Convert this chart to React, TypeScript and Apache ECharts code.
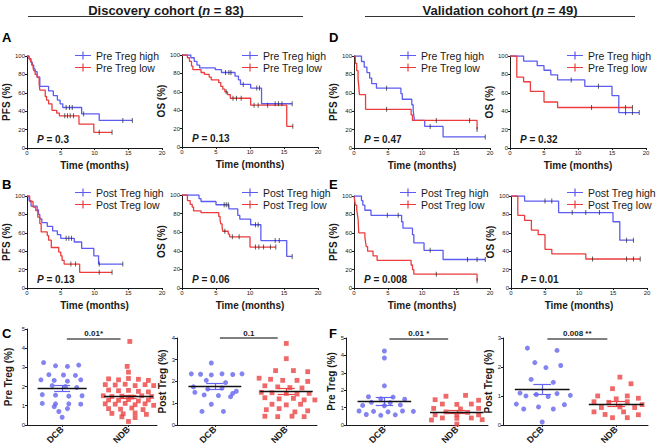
import React, { useEffect, useRef } from "react";
import * as echarts from "echarts";

// ---------------- Kaplan-Meier data [months, % surviving] ----------------
// A: Discovery cohort, pre-treatment Treg
const discPrePfsHigh = [[0,100],[0.3,97],[0.6,93],[0.8,90],[1.0,86],[1.2,83],[1.5,77],[1.9,67],[3.2,62],[3.9,57],[4.5,52],[4.9,48],[5.3,44],[8.1,37],[10.7,30],[15.6,30]];
const discPrePfsHighCens = [[5.8,44],[6.3,44],[6.7,44],[8.4,37],[14.2,30],[15.6,30]];
const discPrePfsLow = [[0,100],[0.3,97],[0.5,94],[0.7,90],[0.9,87],[1.0,84],[1.2,80],[1.5,77],[1.8,70],[1.9,63],[2.7,56],[2.9,52],[3.2,48],[3.7,41],[4.4,38],[4.8,35],[7.7,26],[9.9,17],[12.6,17]];
const discPrePfsLowCens = [[5.6,35],[6.0,35],[6.4,35],[6.9,35],[10.7,17],[12.6,17]];
const discPreOsHigh = [[0,100],[1.3,97],[1.8,93],[2.2,89],[2.6,86],[4.9,84],[5.8,81],[7.8,77],[8.3,73],[8.6,68],[10.1,64],[11.7,47],[16.2,47]];
const discPreOsHighCens = [[6.4,81],[6.9,81],[7.2,81],[9.0,68],[11.0,64],[11.4,64],[13.7,47],[14.2,47],[14.7,47],[16.2,47]];
const discPreOsLow = [[0,100],[0.8,97],[1.1,93],[1.4,88],[1.6,84],[2.8,81],[3.3,79],[4.0,76],[4.3,73],[5.4,70],[5.7,66],[6.0,63],[6.3,60],[6.7,57],[7.1,53],[10.1,45.5],[15.4,22.5],[16.3,22.5]];
const discPreOsLowCens = [[6.5,60],[7.5,53],[8.0,53],[8.7,53],[10.6,45.5],[11.2,45.5],[12.6,45.5],[16.3,22.5]];
// B: Discovery cohort, post-treatment Treg
const discPostPfsHigh = [[0,100],[0.3,95],[0.6,89],[1.5,85],[1.7,80],[1.9,75],[2.2,71],[3.0,67],[3.8,62],[4.5,58],[5.0,54],[7.0,50],[8.1,43],[9.9,35],[10.6,26],[14.2,26]];
const discPostPfsHighCens = [[5.8,54],[6.2,54],[6.6,54],[10.7,26],[14.2,26]];
const discPostPfsLow = [[0,100],[0.4,94],[0.9,88],[1.3,84],[1.6,77],[1.9,70],[2.1,61],[3.0,57],[3.2,52],[3.6,44],[4.7,39],[5.0,35],[5.2,30],[5.5,26],[7.8,17],[12.6,17]];
const discPostPfsLowCens = [[6.5,26],[7.2,26],[10.7,17],[12.6,17]];
const discPostOsHigh = [[0,100],[2.5,96],[2.8,93],[5.0,89.5],[6.9,85],[8.2,78],[8.5,74],[10.1,68],[11.6,51],[15.4,34],[16.2,34]];
const discPostOsHighCens = [[6.2,89.5],[6.5,89.5],[6.8,89.5],[10.8,68],[11.2,68],[13.7,51],[14.3,51],[16.2,34]];
const discPostOsLow = [[0,100],[0.8,94],[1.2,90],[1.5,87],[1.7,83],[2.8,81],[5.4,77],[5.6,73],[5.7,69],[5.9,65],[6.0,61],[6.8,58],[7.0,55],[10.0,44],[13.8,44]];
const discPostOsLowCens = [[6.3,61],[7.4,55],[8.4,55],[10.8,44],[11.3,44],[12.0,44],[13.0,44],[13.8,44]];
// D: Validation cohort, pre-treatment Treg
const valPrePfsHigh = [[0,100],[1.1,94],[1.5,88],[1.9,82],[2.3,76],[2.6,70],[3.3,65],[6.9,59],[7.1,53],[8.5,47],[8.7,41],[8.8,35],[8.9,30],[10.4,23.5],[13.1,12],[19.3,12]];
const valPrePfsHighCens = [[4.8,65],[11.2,23.5],[19.3,12]];
const valPrePfsLow = [[0,100],[0.2,92],[0.4,84],[0.6,75],[0.7,67],[0.8,58],[1.7,42],[8.4,36],[8.6,30],[18.1,20]];
const valPrePfsLowCens = [[4.8,42],[12.1,30],[17.0,30],[18.1,20]];
const valPreOsHigh = [[0,100],[2,94.5],[4,89.5],[5,84.5],[6,79.5],[7,74],[11,67],[15,57],[16,38.5],[19,38.5]];
const valPreOsHighCens = [[9,74],[13,67],[17,38.5],[18,38.5],[19,38.5]];
const valPreOsLow = [[0,100],[1,77],[2,72],[3,61.5],[5,50],[7,44],[18,44]];
const valPreOsLowCens = [[12,44],[17,44],[18,44]];
// E: Validation cohort, post-treatment Treg
const valPostPfsHigh = [[0,100],[1.1,95],[1.3,90],[1.6,84.5],[2.5,79],[7.0,72],[7.2,65],[8.6,58],[8.8,49],[10.3,41],[13.1,31],[19.3,31]];
const valPostPfsHighCens = [[4.9,79],[6.5,79],[11.2,41],[16.7,31],[18.1,31],[19.3,31]];
const valPostPfsLow = [[0,100],[0.1,95],[0.2,90],[0.4,85],[0.5,80],[0.6,75],[0.7,60],[1.6,55],[1.7,50],[1.8,45],[2.0,40],[2.8,35],[3.4,30],[8.4,25],[8.6,20],[8.8,15],[18.1,8]];
const valPostPfsLowCens = [[12.1,15],[18.1,8]];
const valPostOsHigh = [[0,100],[2,94.5],[7,82],[15,72],[16,52],[18,52]];
const valPostOsHighCens = [[5,94.5],[6,94.5],[9,82],[11,82],[13,82],[17,52],[18,52]];
const valPostOsLow = [[0,100],[1,79],[2,73.5],[3,63],[4,58],[5,42],[6,37],[11,31.5],[19,31.5]];
const valPostOsLowCens = [[12,31.5],[17,31.5],[18,31.5],[19,31.5]];

const preNames = ["Pre Treg high", "Pre Treg low"];
const postNames = ["Post Treg high", "Post Treg low"];
const pValuesKM = ["0.3", "0.13", "0.47", "0.32", "0.13", "0.06", "0.008", "0.01"];

// ---------------- Column scatter data [horizontal jitter, Treg %] ----------------
const groupLabels = ["DCB", "NDB"];
const preDiscDcb = [[-0.28,3.25],[-0.1,3.08],[0.08,3.05],[0.25,3.12],[-0.2,2.62],[0.02,2.6],[0.2,2.58],[-0.32,2.35],[-0.12,2.32],[0.08,2.28],[0.28,2.35],[-0.15,2.05],[0.05,2.0],[0.22,1.95],[-0.3,1.58],[-0.1,1.55],[0.1,1.5],[0.3,1.52],[-0.3,1.12],[-0.1,1.1],[0.1,1.1],[0.28,1.08],[-0.12,0.95],[0.08,0.85],[-0.05,0.7],[0.0,0.4]];
const preDiscNdb = [[0.02,4.35],[-0.02,3.05],[0.0,2.75],[-0.3,2.4],[-0.15,2.35],[0.0,2.42],[0.15,2.38],[0.3,2.32],[-0.35,2.1],[-0.2,2.08],[-0.05,2.12],[0.1,2.05],[0.25,2.1],[0.38,2.05],[-0.3,1.82],[-0.15,1.78],[0.0,1.8],[0.15,1.75],[0.3,1.72],[-0.38,1.52],[-0.25,1.48],[-0.1,1.5],[0.05,1.45],[0.2,1.52],[0.35,1.48],[-0.3,1.3],[-0.15,1.28],[0.0,1.32],[0.15,1.25],[0.3,1.3],[-0.35,1.1],[-0.2,1.08],[-0.05,1.12],[0.1,1.05],[0.25,1.1],[0.38,1.02],[-0.3,0.85],[-0.12,0.82],[0.05,0.88],[0.22,0.8],[-0.25,0.6],[-0.08,0.58],[0.1,0.62],[0.27,0.55],[-0.1,0.42],[0.1,0.38],[0.0,0.18]];
const postDiscDcb = [[-0.05,2.85],[-0.33,2.35],[-0.2,2.33],[-0.05,2.3],[0.1,2.35],[0.25,2.32],[0.38,2.35],[-0.12,2.05],[0.15,1.95],[-0.3,1.75],[-0.1,1.65],[0.1,1.7],[0.3,1.55],[-0.28,1.5],[0.25,1.45],[-0.15,1.38],[0.05,1.35],[0.22,1.3],[-0.05,0.95],[-0.18,0.62],[0.12,0.62]];
const postDiscNdb = [[0.0,3.75],[0.0,3.05],[-0.15,2.5],[0.1,2.5],[0.3,2.45],[-0.38,2.15],[-0.22,2.1],[-0.05,2.05],[0.15,2.05],[0.3,2.0],[-0.3,1.8],[-0.12,1.75],[0.05,1.72],[0.22,1.7],[-0.35,1.5],[-0.2,1.48],[0.0,1.45],[0.15,1.42],[0.32,1.45],[-0.3,1.25],[-0.1,1.2],[0.1,1.22],[0.25,1.15],[0.4,1.15],[-0.2,0.95],[0.0,0.92],[0.2,0.95],[-0.28,0.7],[-0.1,0.75],[0.12,0.6],[0.3,0.65],[-0.3,0.4],[-0.12,0.38],[0.08,0.4],[0.25,0.38]];
const preValDcb = [[0.0,4.25],[0.0,3.85],[0.0,2.25],[-0.22,1.62],[0.12,1.6],[-0.05,1.5],[0.28,1.48],[-0.18,1.3],[0.08,1.28],[-0.3,1.12],[0.0,1.1],[0.22,1.15],[-0.35,0.8],[-0.15,0.78],[0.05,0.75],[0.25,0.8],[0.4,0.78],[-0.25,0.6],[-0.05,0.55],[0.15,0.58]];
const preValNdb = [[0.12,1.7],[-0.15,1.65],[-0.3,1.45],[0.3,1.42],[-0.2,1.2],[0.0,1.18],[0.2,1.2],[-0.32,0.95],[0.05,0.92],[0.3,0.95],[-0.15,0.75],[0.15,0.72],[-0.3,0.58],[0.0,0.6],[0.3,0.58],[-0.2,0.4],[0.0,0.38],[0.2,0.4],[-0.35,0.28],[0.35,0.3],[0.0,0.05]];
const postValDcb = [[-0.2,2.65],[0.2,2.57],[-0.1,2.15],[0.25,2.05],[0.05,1.98],[-0.15,1.57],[0.15,1.47],[-0.3,1.1],[-0.08,1.05],[0.2,1.08],[0.38,1.02],[-0.22,1.0],[0.08,0.98],[-0.35,0.72],[0.3,0.7],[-0.05,0.62],[-0.25,0.55],[0.15,0.55],[0.0,0.1]];
const postValNdb = [[0.05,1.65],[0.2,1.42],[-0.05,1.25],[-0.25,1.0],[0.15,1.0],[0.0,0.9],[0.3,0.92],[-0.3,0.8],[-0.1,0.78],[0.15,0.8],[0.35,0.7],[-0.2,0.6],[0.05,0.62],[0.25,0.6],[-0.3,0.45],[0.1,0.45],[-0.15,0.36],[0.3,0.35],[-0.05,0.25],[0.15,0.25]];
// mean and SEM per group [DCB, NDB]
const preDiscMean = [1.9, 1.47];
const preDiscSem = [0.15, 0.1];
const postDiscMean = [1.78, 1.55];
const postDiscSem = [0.13, 0.13];
const preValMean = [1.35, 0.75];
const preValSem = [0.22, 0.1];
const postValMean = [1.24, 0.72];
const postValSem = [0.17, 0.09];
const sigLabels = ["0.01*", "0.1", "0.01 *", "0.008 **"];
const sigHeights = [4.5, 4.0, 4.95, 2.97];

// ---------------- styling ----------------
const FONT = "'Liberation Sans', Arial, Helvetica, sans-serif";
const BLUE_LINE = "#5c5cf2";
const RED_LINE = "#ec3c3c";
const BLUE_DOT = "#6464ee";
const RED_DOT = "#ec4444";
const INK = "#1a1a1a";
const LEGEND_ICON = "path://M0,3.4H16V4.6H0Z M7.4,0H8.6V8H7.4Z";

const kmPanels = [
  { grid: [27, 56, 135, 92], yName: "PFS (%)", yGap: 14, high: discPrePfsHigh, highC: discPrePfsHighCens, low: discPrePfsLow, lowC: discPrePfsLowCens, names: preNames, legend: [75, 50] },
  { grid: [182, 55, 136, 92], yName: "OS (%)", yGap: 11, high: discPreOsHigh, highC: discPreOsHighCens, low: discPreOsLow, lowC: discPreOsLowCens, names: preNames, legend: [242, 50] },
  { grid: [354, 56, 136, 92], yName: "PFS (%)", yGap: 12, high: valPrePfsHigh, highC: valPrePfsHighCens, low: valPrePfsLow, lowC: valPrePfsLowCens, names: preNames, legend: [400, 50] },
  { grid: [510, 56, 136, 92], yName: "OS (%)", yGap: 12, high: valPreOsHigh, highC: valPreOsHighCens, low: valPreOsLow, lowC: valPreOsLowCens, names: preNames, legend: [567, 50] },
  { grid: [27, 196, 135, 92], yName: "PFS (%)", yGap: 14, high: discPostPfsHigh, highC: discPostPfsHighCens, low: discPostPfsLow, lowC: discPostPfsLowCens, names: postNames, legend: [75, 187] },
  { grid: [182, 195, 136, 93], yName: "OS (%)", yGap: 12, high: discPostOsHigh, highC: discPostOsHighCens, low: discPostOsLow, lowC: discPostOsLowCens, names: postNames, legend: [242, 187] },
  { grid: [354, 196, 136, 92], yName: "PFS (%)", yGap: 12, high: valPostPfsHigh, highC: valPostPfsHighCens, low: valPostPfsLow, lowC: valPostPfsLowCens, names: postNames, legend: [400, 187] },
  { grid: [511, 196, 136, 92], yName: "OS (%)", yGap: 12, high: valPostOsHigh, highC: valPostOsHighCens, low: valPostOsLow, lowC: valPostOsLowCens, names: postNames, legend: [567, 187] },
];

const scPanels = [
  { grid: [27, 329, 130, 108], yName: "Pre Treg (%)", yGap: 14, yMax: 5, dcb: preDiscDcb, ndb: preDiscNdb, mean: preDiscMean, sem: preDiscSem },
  { grid: [177, 338, 140, 99], yName: "Post Treg (%)", yGap: 7, yMax: 4, dcb: postDiscDcb, ndb: postDiscNdb, mean: postDiscMean, sem: postDiscSem },
  { grid: [346, 338, 142, 99], yName: "Pre Treg (%)", yGap: 7, yMax: 5, dcb: preValDcb, ndb: preValNdb, mean: preValMean, sem: preValSem },
  { grid: [503, 338, 145, 99], yName: "Post Treg (%)", yGap: 7, yMax: 3, dcb: postValDcb, ndb: postValNdb, mean: postValMean, sem: postValSem },
];

const axisLine = { show: true, onZero: false, lineStyle: { color: INK, width: 1 } };
const axisTick = { show: true, length: 2, lineStyle: { color: INK, width: 1 } };
const nameStyle = { fontSize: 10, fontWeight: "bold", color: INK, fontFamily: FONT };
const tickLabel = { fontSize: 6, color: INK, fontFamily: FONT };

function buildOption() {
  const grid: any[] = [];
  const xAxis: any[] = [];
  const yAxis: any[] = [];
  const series: any[] = [];
  const legend: any[] = [];
  const graphic: any[] = [];

  kmPanels.forEach((p, i) => {
    grid.push({ left: p.grid[0], top: p.grid[1], width: p.grid[2], height: p.grid[3], containLabel: false });
    xAxis.push({
      type: "value", gridIndex: i, min: 0, max: 20, interval: 5,
      name: "Time (months)", nameLocation: "middle", nameGap: 12, nameTextStyle: nameStyle,
      axisLine, axisTick, axisLabel: { ...tickLabel, margin: 2 }, splitLine: { show: false },
    });
    yAxis.push({
      type: "value", gridIndex: i, min: 0, max: 100, interval: 20,
      name: p.yName, nameLocation: "middle", nameGap: p.yGap, nameTextStyle: nameStyle,
      axisLine, axisTick, axisLabel: { ...tickLabel, margin: 2 }, splitLine: { show: false },
    });
    series.push({
      type: "line", name: p.names[0], xAxisIndex: i, yAxisIndex: i, data: p.high, step: "end",
      showSymbol: false, symbol: "none", silent: true, z: 2,
      lineStyle: { color: BLUE_LINE, width: 1.3 }, itemStyle: { color: BLUE_LINE },
    });
    series.push({
      type: "line", name: p.names[1], xAxisIndex: i, yAxisIndex: i, data: p.low, step: "end",
      showSymbol: false, symbol: "none", silent: true, z: 2,
      lineStyle: { color: RED_LINE, width: 1.3 }, itemStyle: { color: RED_LINE },
    });
    [p.highC, p.lowC].forEach((c) => {
      series.push({
        type: "scatter", xAxisIndex: i, yAxisIndex: i, data: c, symbol: "rect",
        symbolSize: [0.9, 5], silent: true, z: 3, itemStyle: { color: "#222" },
      });
    });
    legend.push({
      data: p.names, left: p.legend[0], top: p.legend[1], orient: "vertical",
      itemWidth: 16, itemHeight: 8, itemGap: 1, padding: 0, icon: LEGEND_ICON,
      selectedMode: false, itemStyle: { borderWidth: 0 },
      textStyle: { fontSize: 10.5, color: INK, fontFamily: FONT, lineHeight: 10 },
    });
    const bottom = p.grid[1] + p.grid[3];
    graphic.push({
      type: "text", x: p.grid[0] + 10, y: bottom - 9,
      style: {
        text: "{i|P}{n| = " + pValuesKM[i] + "}",
        verticalAlign: "middle", align: "left",
        rich: {
          i: { fontSize: 10, fontWeight: "bold", fontStyle: "italic", fontFamily: FONT, fill: INK },
          n: { fontSize: 10, fontWeight: "bold", fontFamily: FONT, fill: INK },
        },
      },
    });
  });

  scPanels.forEach((p, j) => {
    const k = kmPanels.length + j;
    grid.push({ left: p.grid[0], top: p.grid[1], width: p.grid[2], height: p.grid[3], containLabel: false });
    xAxis.push({
      type: "value", gridIndex: k, min: -0.53, max: 1.43,
      axisLine, axisTick: { ...axisTick, customValues: [0, 1] },
      axisLabel: {
        customValues: [0, 1], rotate: 45, fontSize: 9, fontWeight: "bold", color: INK, fontFamily: FONT, margin: 3,
        formatter: (v: number) => (Math.abs(v) < 1e-6 ? groupLabels[0] : Math.abs(v - 1) < 1e-6 ? groupLabels[1] : ""),
      },
      splitLine: { show: false },
    });
    yAxis.push({
      type: "value", gridIndex: k, min: 0, max: p.yMax, interval: 1,
      name: p.yName, nameLocation: "middle", nameGap: p.yGap, nameTextStyle: nameStyle,
      axisLine, axisTick, axisLabel: { ...tickLabel, margin: 2 }, splitLine: { show: false },
    });
    const errLines = (g: number, color: string) => {
      const m = p.mean[g];
      const s = p.sem[g];
      const ls = { color, width: 1.2, type: "solid" };
      return [
        [{ coord: [g - 0.12, m + s], lineStyle: ls }, { coord: [g + 0.12, m + s] }],
        [{ coord: [g - 0.12, m - s], lineStyle: ls }, { coord: [g + 0.12, m - s] }],
        [{ coord: [g, m - s], lineStyle: ls }, { coord: [g, m + s] }],
        [{ coord: [g - 0.37, m], lineStyle: { color: "#111", width: 1.3, type: "solid" } }, { coord: [g + 0.37, m] }],
      ];
    };
    series.push({
      type: "scatter", xAxisIndex: k, yAxisIndex: k, silent: true,
      data: p.dcb.map(([o, v]) => [0 + o, v]),
      symbol: "circle", symbolSize: 5, itemStyle: { color: BLUE_DOT },
      markLine: {
        silent: true, symbol: ["none", "none"], label: { show: false }, animation: false,
        data: [
          ...errLines(0, BLUE_DOT),
          [
            {
              coord: [0.07, sigHeights[j]],
              lineStyle: { color: "#555", width: 1.6, type: "solid" },
              label: {
                show: true, position: "insideMiddleTop", formatter: sigLabels[j], distance: 1,
                fontSize: 8, fontWeight: "bold", color: INK, fontFamily: FONT,
              },
            },
            { coord: [0.88, sigHeights[j]] },
          ],
        ],
      },
    });
    series.push({
      type: "scatter", xAxisIndex: k, yAxisIndex: k, silent: true,
      data: p.ndb.map(([o, v]) => [1 + o, v]),
      symbol: "rect", symbolSize: 4.8, itemStyle: { color: RED_DOT },
      markLine: {
        silent: true, symbol: ["none", "none"], label: { show: false }, animation: false,
        data: errLines(1, RED_DOT),
      },
    });
  });

  // headers
  const header = (x: number, label: string, n: string) => ({
    type: "text", x, y: 10,
    style: {
      text: "{b|" + label + " (}{i|n}{b| = " + n + ")}",
      align: "center", verticalAlign: "middle",
      rich: {
        b: { fontSize: 13, fontWeight: "bold", fontFamily: FONT, fill: INK },
        i: { fontSize: 13, fontWeight: "bold", fontStyle: "italic", fontFamily: FONT, fill: INK },
      },
    },
  });
  graphic.push(header(166, "Discovery cohort", "83"));
  graphic.push(header(500, "Validation cohort", "49"));
  graphic.push({ type: "line", shape: { x1: 28, y1: 16.5, x2: 303, y2: 16.5 }, style: { stroke: "#333", lineWidth: 1 } });
  graphic.push({ type: "line", shape: { x1: 365, y1: 16.5, x2: 635, y2: 16.5 }, style: { stroke: "#333", lineWidth: 1 } });
  const letters: [string, number, number][] = [["A", 2, 37], ["D", 329, 37], ["B", 2, 184], ["E", 329, 184], ["C", 2, 333], ["F", 329, 333]];
  letters.forEach(([t, x, y]) => {
    graphic.push({
      type: "text", x, y,
      style: { text: t, fontSize: 13, fontWeight: "bold", fontFamily: FONT, fill: "#000", verticalAlign: "middle", align: "left" },
    });
  });

  return {
    animation: false,
    backgroundColor: "#ffffff",
    textStyle: { fontFamily: FONT },
    grid, xAxis, yAxis, series, legend, graphic,
  };
}

export default function App() {
  const ref = useRef<HTMLDivElement>(null);
  useEffect(() => {
    const chart = echarts.init(ref.current as HTMLDivElement, null, { renderer: "svg" });
    chart.setOption(buildOption() as any);
    return () => chart.dispose();
  }, []);
  return (
    <div
      ref={ref}
      style={{ position: "fixed", left: 0, top: 0, width: 668, height: 447, background: "#fff" }}
    />
  );
}
